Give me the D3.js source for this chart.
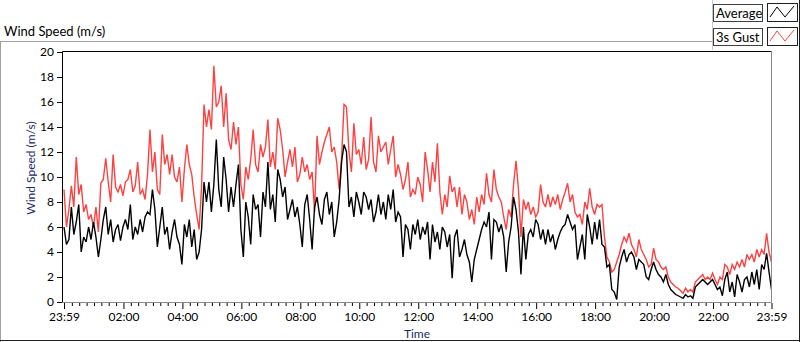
<!DOCTYPE html>
<html>
<head>
<meta charset="utf-8">
<script src="https://cdn.jsdelivr.net/npm/d3@7"></script>
<style>
  html, body { margin: 0; padding: 0; background: #ffffff; }
  svg { display: block; }
</style>
</head>
<body>
<svg id="chart" width="800" height="342"></svg>
<script>
// ---- data (5-minute samples from 23:59 to 23:59 next day) ----
const seriesNames = ["Average", "3s Gust"];
const startTime = "2000-01-01T23:59:00";
const stepMinutes = 5;
const yTicks = [0, 2, 4, 6, 8, 10, 12, 14, 16, 18, 20];
const xTickLabels = ["23:59", "02:00", "04:00", "06:00", "08:00", "10:00", "12:00", "14:00", "16:00", "18:00", "20:00", "22:00", "23:59"];

const gust = [
  9.0, 6.0, 7.4, 9.3, 7.6, 11.6, 8.6, 9.4, 7.2, 7.8,
  6.6, 7.0, 6.0, 7.6, 5.6, 9.5, 9.8, 11.5, 9.6, 8.0,
  11.8, 9.2, 8.8, 9.4, 8.5, 9.6, 9.8, 10.6, 8.8, 9.3,
  11.2, 8.6, 9.0, 8.2, 10.2, 13.8, 10.4, 12.0, 9.0, 8.6,
  13.4, 11.0, 11.8, 10.2, 11.8, 10.0, 9.6, 10.8, 8.0, 10.6,
  12.6, 11.0, 10.2, 8.4, 7.0, 5.8, 9.2, 15.8,
  14.0, 15.4, 13.8, 18.9, 15.6, 16.0, 17.3, 14.0, 16.7, 13.0,
  12.2, 14.4, 12.6, 14.0, 9.4, 8.2, 10.8, 9.8, 11.4, 13.8,
  11.0, 10.4, 12.6, 11.6, 12.4, 14.6, 10.8, 12.0, 10.6, 14.7,
  13.8, 12.2, 10.0, 11.2, 12.2, 10.8, 12.4, 9.6, 10.2, 11.6,
  10.4, 11.0, 9.8, 10.4, 7.2, 13.3, 11.0, 12.0, 12.8, 13.4,
  14.0, 12.0, 12.4, 11.2, 9.0, 11.6, 15.8,
  15.6, 12.0, 10.4, 14.3, 11.8, 12.2, 11.0, 13.2, 10.6, 11.4,
  14.8, 11.2, 10.4, 13.3, 12.0, 12.4, 12.8, 11.0, 12.2, 13.3,
  10.0, 11.0, 10.2, 9.0, 9.8, 11.2, 8.4, 9.0, 8.6, 10.0,
  9.4, 8.0, 12.0, 10.6, 8.8, 11.2, 9.6, 12.7, 8.8, 7.0,
  8.6, 7.6, 10.1, 8.8, 9.2, 7.6, 9.2, 7.0, 8.6, 8.0,
  6.6, 7.4, 6.2, 8.4, 7.2, 8.6, 7.8,
  10.3, 8.6, 8.0, 10.6, 9.0, 8.4, 8.0, 6.8, 5.8, 7.4,
  6.8, 9.4, 11.3, 9.0, 5.2, 8.2, 7.4, 8.0, 7.0, 7.6,
  6.8, 7.2, 9.4, 8.0, 7.6, 8.6, 7.6, 8.4, 7.8, 8.6,
  7.4, 8.2, 8.8, 9.5, 8.0, 8.6, 7.2, 6.8,
  7.0, 6.2, 8.0, 7.4, 9.1, 7.6, 7.0, 7.8, 7.6, 7.8,
  5.2, 3.6, 3.2, 2.4, 2.6, 3.2, 3.8, 4.6, 5.2, 4.8,
  5.5, 4.6, 4.2, 3.6, 5.0, 4.2, 3.8, 3.4, 2.8, 3.0,
  4.3, 3.4, 3.2, 2.8, 2.6, 2.8, 2.0, 1.6, 1.4, 1.2,
  1.1, 0.9, 0.7, 1.1, 0.8, 1.0, 0.8, 1.6, 1.8, 2.0,
  2.2, 1.8, 2.0, 1.8, 2.3, 1.8, 1.4, 2.0, 1.8, 3.0,
  2.8, 2.2, 3.0, 2.6, 3.2, 2.8, 3.4, 2.8, 3.8, 3.4,
  3.8, 3.2, 4.2, 3.6, 4.2, 3.8, 5.5, 4.0, 3.2
];

const average = [
  6.0, 4.6, 5.0, 7.6, 5.4, 6.4, 7.8, 4.0, 5.2, 4.8,
  6.0, 5.0, 6.4, 5.2, 3.6, 5.0, 6.6, 7.6, 5.4, 6.6,
  4.8, 5.8, 6.2, 4.9, 6.0, 6.6, 5.8, 7.8, 5.0, 6.0,
  5.4, 6.6, 5.6, 6.8, 7.2, 7.0, 9.0, 7.4, 4.4, 6.0,
  7.6, 5.4, 6.0, 4.2, 5.6, 6.6, 5.2, 4.6, 3.0, 6.2,
  5.2, 6.6, 4.4, 5.8, 3.4, 4.0, 5.8, 9.6,
  8.0, 9.6, 7.2, 9.4, 13.0, 9.0, 7.6, 11.6, 9.8, 7.2,
  9.2, 7.6, 9.4, 11.0, 5.8, 3.6, 8.0, 6.8, 4.6, 8.6,
  7.4, 7.8, 5.2, 8.8, 7.6, 11.2, 7.4, 8.6, 6.4, 10.6,
  9.8, 8.4, 9.2, 6.6, 7.4, 8.2, 6.8, 7.6, 6.2, 4.4,
  7.8, 8.6, 6.6, 4.2, 7.6, 8.4, 7.0, 6.2, 8.2, 8.8,
  7.0, 8.0, 5.2, 6.4, 8.2, 11.2, 12.6,
  12.0, 7.6, 8.4, 6.8, 8.8, 8.0, 7.0, 8.8, 8.4, 7.4,
  8.2, 6.4, 7.2, 8.6, 7.0, 8.0, 6.6, 8.6, 7.4, 9.0,
  6.4, 7.2, 6.8, 3.6, 6.2, 5.8, 4.2, 6.2, 5.4, 6.6,
  5.0, 6.0, 5.4, 6.4, 3.4, 6.2, 4.8, 5.6, 4.2, 6.0,
  5.6, 4.4, 5.4, 1.9, 5.2, 5.8, 3.6, 4.2, 5.0, 3.8,
  3.2, 1.6, 3.4, 4.2, 5.0, 5.8, 6.4,
  6.0, 7.2, 3.4, 6.6, 6.4, 5.6, 6.2, 5.2, 2.4, 4.8,
  6.0, 8.4, 7.4, 5.6, 2.2, 6.0, 3.4, 5.4, 5.8, 5.2,
  6.6, 6.2, 5.0, 5.8, 4.6, 5.8, 4.8, 5.4, 4.2, 5.0,
  5.6, 6.0, 6.2, 7.0, 6.4, 5.8, 6.2, 3.4,
  4.4, 5.4, 3.4, 7.0, 6.0, 4.6, 6.4, 5.0, 6.6, 4.6,
  4.4, 2.8, 3.0, 1.0, 0.8, 0.2, 2.8, 3.6, 4.2, 3.2,
  3.8, 4.0, 3.6, 2.6, 3.4, 3.2, 3.0, 2.0, 1.8, 2.6,
  3.2, 2.6, 2.2, 2.0, 1.6, 2.2, 1.4, 1.0, 0.8, 0.6,
  0.5, 0.4, 0.3, 0.6, 0.4, 0.5, 0.3, 1.2, 1.4, 1.6,
  1.8, 1.6, 1.4, 1.6, 1.8, 1.4, 1.0, 1.2, 0.5, 1.8,
  2.4, 0.8, 1.6, 0.4, 2.2, 1.6, 0.8, 1.8, 2.0, 1.2,
  2.4, 1.4, 2.6, 1.0, 3.0, 2.6, 3.9, 2.4, 1.0
];

// ---- layout ----
const svg = d3.select("#chart");
const plot = { left: 62.5, right: 771.5, top: 51.5, bottom: 302.5 };
const FONT = "Lato, 'Liberation Sans', sans-serif";

const t0 = new Date(startTime);
const tEnd = d3.timeMinute.offset(t0, 24 * 60);
const timeOf = i => d3.timeMinute.offset(t0, i * stepMinutes);

const x = d3.scaleTime().domain([t0, tEnd]).range([64, 771.5]);
const y = d3.scaleLinear().domain([0, 20]).range([302, 52]);

// outer frame
svg.append("rect").attr("x", 0).attr("y", 0).attr("width", 800).attr("height", 342).attr("fill", "#ffffff");
svg.append("line").attr("x1", 0).attr("x2", 712).attr("y1", 41.5).attr("y2", 41.5).attr("stroke", "#a0a0a0");
svg.append("line").attr("x1", 0.5).attr("x2", 0.5).attr("y1", 41.5).attr("y2", 342).attr("stroke", "#a0a0a0");
svg.append("line").attr("x1", 0).attr("x2", 800).attr("y1", 340.5).attr("y2", 340.5).attr("stroke", "#202020");
svg.append("line").attr("x1", 799.5).attr("x2", 799.5).attr("y1", 0).attr("y2", 342).attr("stroke", "#202020");
svg.append("line").attr("x1", 712.5).attr("x2", 712.5).attr("y1", 0).attr("y2", 50).attr("stroke", "#c8c8c8");

// chart title
svg.append("text").attr("x", 4).attr("y", 36).attr("font-family", FONT).attr("font-size", 13)
  .attr("fill", "#000").text("Wind Speed (m/s)");

// series lines
svg.append("defs").append("clipPath").attr("id", "clip")
  .append("rect").attr("x", plot.left).attr("y", plot.top).attr("width", plot.right - plot.left).attr("height", plot.bottom - plot.top);

const line = d3.line().x((d, i) => x(timeOf(i))).y(d => y(d));
const g = svg.append("g").attr("clip-path", "url(#clip)");
g.append("path").datum(gust).attr("d", line).attr("fill", "none").attr("stroke", "#ff4040")
  .attr("stroke-width", 1.4).attr("stroke-linejoin", "miter").attr("stroke-miterlimit", 3);
g.append("path").datum(average).attr("d", line).attr("fill", "none").attr("stroke", "#000000")
  .attr("stroke-width", 1.4).attr("stroke-linejoin", "miter").attr("stroke-miterlimit", 3);

// plot frame
svg.append("line").attr("x1", plot.left).attr("x2", plot.right).attr("y1", plot.top).attr("y2", plot.top).attr("stroke", "#000");
svg.append("line").attr("x1", plot.left).attr("x2", plot.left).attr("y1", plot.top).attr("y2", plot.bottom).attr("stroke", "#000");
svg.append("line").attr("x1", plot.right).attr("x2", plot.right).attr("y1", plot.top).attr("y2", plot.bottom).attr("stroke", "#8a8a8a");
svg.append("line").attr("x1", plot.left).attr("x2", plot.right).attr("y1", plot.bottom).attr("y2", plot.bottom).attr("stroke", "#8a8a8a");

// y axis
const yAxis = d3.axisLeft(y).tickValues(yTicks).tickSize(5).tickSizeOuter(0).tickPadding(3);
const gy = svg.append("g").attr("transform", "translate(62,0)").call(yAxis);
gy.select(".domain").remove();
gy.selectAll(".tick line").attr("stroke", "#000");
gy.selectAll(".tick text").attr("font-family", FONT).attr("font-size", 12).attr("fill", "#000");

// x axis: major ticks with labels
const majorTimes = xTickLabels.map((lab, k) => {
  if (k === 0) return t0;
  if (k === xTickLabels.length - 1) return tEnd;
  const hh = +lab.slice(0, 2), mm = +lab.slice(3, 5);
  const d = new Date(t0); d.setDate(d.getDate() + 1); d.setHours(hh, mm, 0, 0);
  return d;
});
const xAxis = d3.axisBottom(x).tickValues(majorTimes).tickSize(6).tickPadding(3)
  .tickFormat((d, k) => xTickLabels[k]);
const gx = svg.append("g").attr("transform", "translate(0,303)").call(xAxis);
gx.select(".domain").remove();
gx.selectAll(".tick line").attr("stroke", "#000").attr("stroke-width", 1);
gx.selectAll(".tick text").attr("font-family", FONT).attr("font-size", 12).attr("fill", "#000");

// minor ticks every 15 minutes
const minorTimes = d3.timeMinute.every(15).range(d3.timeMinute.offset(t0, 1), tEnd)
  .filter(d => !(d.getMinutes() === 0 && d.getHours() % 2 === 0));
const minorAxis = d3.axisBottom(x).tickValues(minorTimes).tickSize(3).tickFormat("");
const gm = svg.append("g").attr("transform", "translate(0,303)").call(minorAxis);
gm.select(".domain").remove();
gm.selectAll(".tick line").attr("stroke", "#000");

// axis titles
svg.append("text").attr("transform", "translate(35,168) rotate(-90)").attr("text-anchor", "middle")
  .attr("font-family", FONT).attr("font-size", 12).attr("fill", "#1c2a66").text("Wind Speed (m/s)");
svg.append("text").attr("x", 417).attr("y", 338).attr("text-anchor", "middle")
  .attr("font-family", FONT).attr("font-size", 12).attr("fill", "#1c2a66").text("Time");

// legend
const legendColors = ["#000000", "#ff4040"];
const lg = svg.append("g");
seriesNames.forEach((name, k) => {
  const oy = 4 + k * 24;
  lg.append("rect").attr("x", 713.5).attr("y", oy + 0.5).attr("width", 49).attr("height", 17)
    .attr("fill", "#ffffff").attr("stroke", "#404040");
  lg.append("text").attr("x", 716).attr("y", oy + 13.5).attr("font-family", FONT).attr("font-size", 13)
    .attr("fill", "#000").text(name);
  lg.append("rect").attr("x", 767.5).attr("y", oy - 0.5).attr("width", 30).attr("height", 18)
    .attr("fill", "#ffffff").attr("stroke", "#202020");
  const zig = [[770, oy + 13], [777, oy + 3], [785, oy + 13], [794, oy + 2]];
  lg.append("path").attr("d", d3.line()(zig)).attr("fill", "none").attr("stroke", legendColors[k]).attr("stroke-width", 1);
});
</script>
</body>
</html>
